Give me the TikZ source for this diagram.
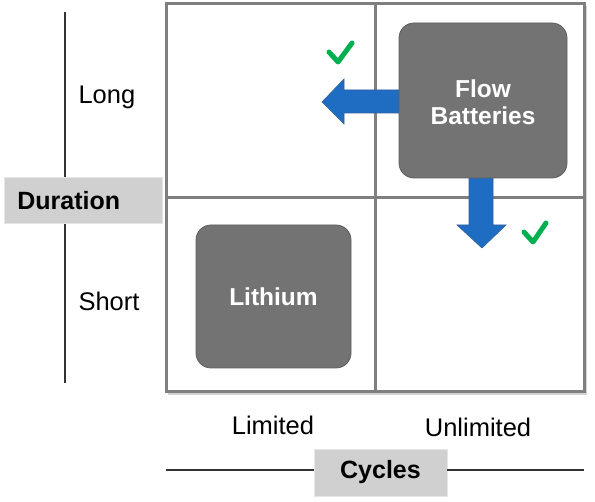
\documentclass[tikz,border=0pt]{standalone}
\usepackage{fontspec}
\setmainfont{Liberation Sans}
\definecolor{arrowblue}{HTML}{1F6DC2}
\definecolor{arrowedge}{HTML}{2F5F9E}
\definecolor{tilegray}{HTML}{737373}
\definecolor{tileedge}{HTML}{5E5E5E}
\definecolor{gridgray}{HTML}{7F7F7F}
\definecolor{boxgray}{HTML}{D0D0D0}
\definecolor{checkgreen}{HTML}{00B050}
\begin{document}
\begin{tikzpicture}[x=1pt,y=-1pt,
  gridline/.style={draw=gridgray, line width=3pt},
  axisline/.style={draw=black!80, line width=1.3pt},
  tile/.style={draw=tileedge, fill=tilegray, line width=0.8pt, rounded corners=15pt},
  tiletext/.style={text=white, font=\fontsize{24.5}{28}\selectfont\bfseries, align=center},
  labelbox/.style={draw=black!10, fill=boxgray, line width=0.8pt, font=\fontsize{25}{30}\selectfont\bfseries},
  axistext/.style={font=\fontsize{25.5}{30}\selectfont},
  bluearrow/.style={fill=arrowblue, draw=arrowedge, line width=0.6pt},
  check/.style={draw=checkgreen, line width=5pt, line cap=round, line join=round}
]
\useasboundingbox (0,0) rectangle (595,502);
% left axis
\coordinate (laxtop) at (65,12);
\coordinate (laxbot) at (65,383);
\node[labelbox, minimum width=158pt, minimum height=46pt, anchor=north west, inner xsep=13pt, text width=132pt, align=left] (dur) at (4,177) {Duration};
\draw[axisline] (laxtop) -- (laxtop |- dur.north);
\draw[axisline] (laxbot) -- (laxbot |- dur.south);
\node[axistext, anchor=west] (long) at (75,97) {Long};
\node[axistext, anchor=west] (short) at (75,301) {Short};
% bottom axis
\node[labelbox, minimum width=133pt, minimum height=47pt] (cyc) at (380.5,472.5) {Cycles};
\coordinate (baxl) at (166,470);
\coordinate (baxr) at (584,470);
\draw[axisline] (baxl) -- (baxl -| cyc.west);
\draw[axisline] (baxr) -- (baxr -| cyc.east);
\node[axistext] (lim) at (273,425) {Limited};
\node[axistext] (unlim) at (478,427) {Unlimited};
% grid with shadow
\fill[black!18] (168,6) rectangle (587,395);
\fill[white] (166,4) rectangle (584,392);
\draw[gridline] (166,4) rectangle (584,392);
\draw[gridline] (375,4) -- (375,392);
\draw[gridline] (166,198) -- (584,198);
% arrows
\coordinate (ltip) at (322,102);
\coordinate (dtip) at (482,248);
\draw[bluearrow] (400,90) -- (344,90) -- (344,79) -- (ltip) -- (344,124) -- (344,113) -- (400,113) -- cycle;
\draw[bluearrow] (469,177) -- (469,225) -- (457,225) -- (dtip) -- (506,225) -- (493,225) -- (493,177) -- cycle;
% tiles
\node[tile, minimum width=168pt, minimum height=155pt] (fb) at (483,100.5) {};
\node[tiletext] (fbt) at (483,102) {Flow\\[-1pt]Batteries};
\node[tile, minimum width=155pt, minimum height=143pt] (li) at (273.5,296.5) {};
\node[tiletext] (lit) at (li.center) {Lithium};
% checks
\draw[check] (329,52) -- (338,62) -- (352,43);
\draw[check] (524,232) -- (533,242) -- (546,223);
\end{tikzpicture}
\end{document}
